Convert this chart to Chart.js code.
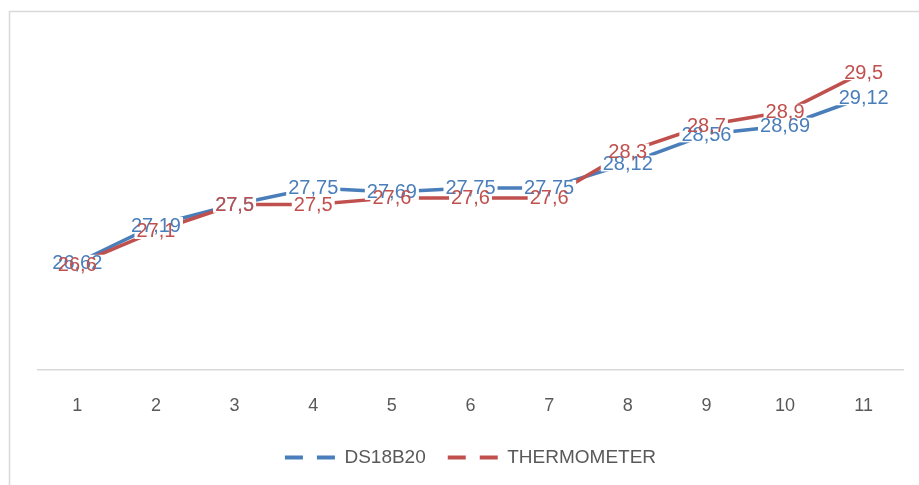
<!DOCTYPE html>
<html>
<head>
<meta charset="utf-8">
<script src="https://cdn.jsdelivr.net/npm/chart.js@4"></script>
<style>
  html, body { margin: 0; padding: 0; background: #fff; }
  #wrap { width: 919px; height: 485px; position: relative; }
</style>
</head>
<body>
<div id="wrap"><canvas id="chart"></canvas></div>
<script>
const categories = ['1', '2', '3', '4', '5', '6', '7', '8', '9', '10', '11'];
const ds18b20 = [26.62, 27.19, 27.5, 27.75, 27.69, 27.75, 27.75, 28.12, 28.56, 28.69, 29.12];
const thermometer = [26.6, 27.1, 27.5, 27.5, 27.6, 27.6, 27.6, 28.3, 28.7, 28.9, 29.5];

const FONT = '"Liberation Sans", Arial, sans-serif';
const BLUE = '#4a7ebb';
const RED = '#c0504d';

const fmt = v => String(v).replace('.', ',');

// light frame round the chart, like the pasted office chart
const frame = {
  id: 'frame',
  beforeDraw(chart) {
    const ctx = chart.ctx;
    ctx.save();
    ctx.strokeStyle = '#d9d9d9';
    ctx.lineWidth = 1.5;
    ctx.strokeRect(9.5, 11.5, 1000, 1000);
    ctx.restore();
  }
};

// value labels centred on each point, with a white patch hiding the line under them
const pointLabels = {
  id: 'pointLabels',
  afterDatasetsDraw(chart) {
    const ctx = chart.ctx;
    ctx.save();
    ctx.font = '20px ' + FONT;
    ctx.textAlign = 'center';
    ctx.textBaseline = 'middle';
    const items = [];
    chart.data.datasets.forEach((ds, i) => {
      chart.getDatasetMeta(i).data.forEach((pt, j) => {
        items.push({ x: pt.x, y: pt.y, text: fmt(ds.data[j]), color: ds.borderColor });
      });
    });
    ctx.fillStyle = '#fff';
    items.forEach(it => {
      const w = ctx.measureText(it.text).width;
      ctx.fillRect(it.x - w / 2 - 2, it.y - 8, w + 4, 16);
    });
    items.forEach(it => {
      ctx.fillStyle = it.color;
      ctx.fillText(it.text, it.x, it.y + 1);
    });
    ctx.restore();
  }
};

new Chart(document.getElementById('chart'), {
  type: 'line',
  data: {
    labels: categories,
    datasets: [
      {
        label: 'DS18B20',
        data: ds18b20,
        borderColor: BLUE,
        backgroundColor: BLUE,
        borderWidth: 3.5,
        pointRadius: 0,
        tension: 0,
        order: 1
      },
      {
        label: 'THERMOMETER',
        data: thermometer,
        borderColor: RED,
        backgroundColor: RED,
        borderWidth: 3.5,
        pointRadius: 0,
        tension: 0,
        order: 0
      }
    ]
  },
  options: {
    responsive: true,
    maintainAspectRatio: false,
    animation: false,
    layout: { padding: { left: 38, right: 16, top: 39, bottom: 8 } },
    scales: {
      x: {
        offset: true,
        grid: { display: false, drawTicks: false },
        border: { display: true, color: '#d9d9d9', width: 1.5 },
        ticks: { color: '#595959', font: { size: 18, family: FONT }, padding: 25 },
        afterFit(scale) { scale.height = 56; }
      },
      y: {
        display: false,
        min: 25,
        max: 30
      }
    },
    plugins: {
      legend: {
        position: 'bottom',
        labels: {
          usePointStyle: true,
          pointStyleWidth: 50,
          color: '#595959',
          font: { size: 19, family: FONT },
          padding: 22,
          generateLabels(chart) {
            return chart.data.datasets.map((ds, i) => ({
              text: ds.label,
              strokeStyle: ds.borderColor,
              fillStyle: ds.borderColor,
              fontColor: '#595959',
              lineWidth: 4,
              lineDash: [18, 14],
              lineCap: 'butt',
              pointStyle: 'line',
              hidden: false,
              datasetIndex: i
            }));
          }
        }
      },
      tooltip: { enabled: false }
    }
  },
  plugins: [frame, pointLabels]
});
</script>
</body>
</html>
